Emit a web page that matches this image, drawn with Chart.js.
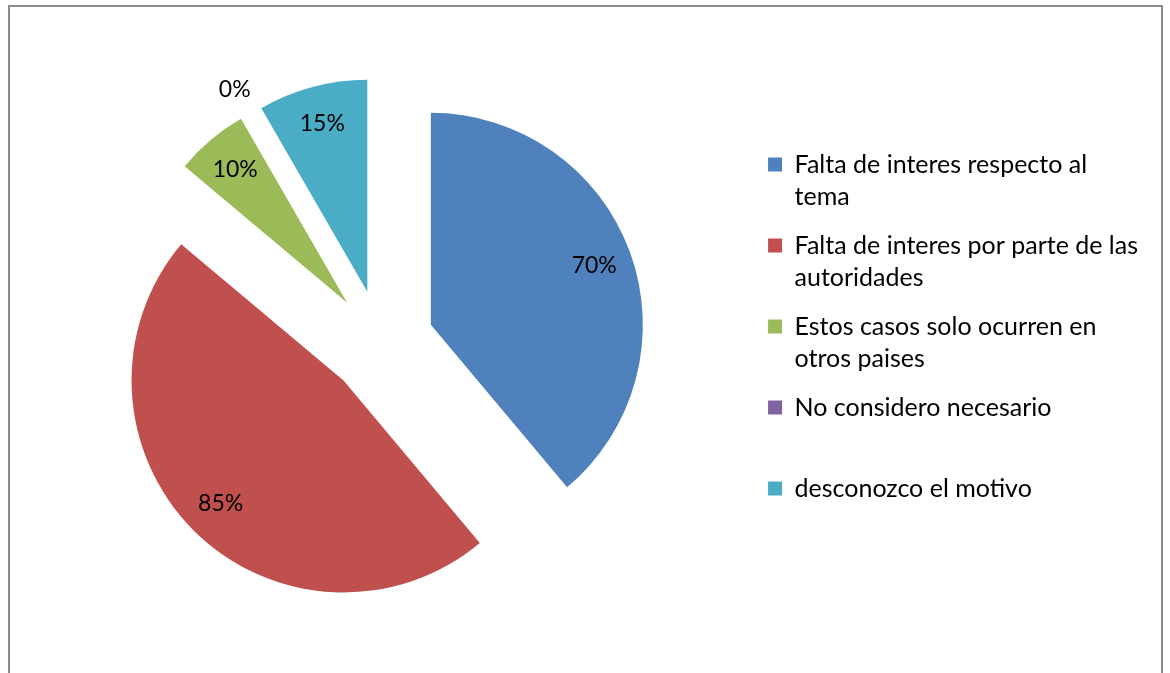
<!DOCTYPE html>
<html>
<head>
<meta charset="utf-8">
<script src="https://cdn.jsdelivr.net/npm/chart.js@4/dist/chart.umd.min.js"></script>
<style>
  html, body { margin: 0; padding: 0; background: #fff; }
  #wrap { position: relative; width: 1170px; height: 673px; overflow: hidden; }
  #frame { position: absolute; left: 8px; top: 5px; width: 1155px; height: 700px; border: 2px solid #8a8a8a; box-sizing: border-box; }
  canvas { position: absolute; left: 0; top: 0; }
</style>
</head>
<body>
<div id="wrap">
  <div id="frame"></div>
  <canvas id="myChart" width="1170" height="673"></canvas>
</div>
<script>
var categories = [
    ['Falta de interes respecto al', 'tema'],
    ['Falta de interes por parte de las', 'autoridades'],
    ['Estos casos solo ocurren en', 'otros paises'],
    ['No considero necesario'],
    ['desconozco el motivo']
];
var values = [70, 85, 10, 0, 15];
var valueLabels = ['70%', '85%', '10%', '0%', '15%'];
var colors = ['#4F81BD', '#C0504D', '#9BBB59', '#8064A2', '#4BACC6'];

var fontFamily = 'Lato, "Open Sans", sans-serif';
var pieRadius = 212;
var explode = 53; // px each slice is pulled out from the centre

var explodedPie = {
    id: 'explodedPie',
    afterDatasetsUpdate: function(chart) {
        // push every slice out along its middle angle
        chart.getDatasetMeta(0).data.forEach(function(arc) {
            var mid = (arc.startAngle + arc.endAngle) / 2;
            arc.x += Math.cos(mid) * explode;
            arc.y += Math.sin(mid) * explode;
        });
    },
    afterDatasetsDraw: function(chart) {
        var ctx = chart.ctx;
        var meta = chart.getDatasetMeta(0);
        ctx.save();
        ctx.font = '23px ' + fontFamily;
        ctx.fillStyle = '#000';
        ctx.textAlign = 'center';
        ctx.textBaseline = 'middle';
        meta.data.forEach(function(arc, i) {
            var mid = (arc.startAngle + arc.endAngle) / 2;
            var r = values[i] === 0 ? arc.outerRadius * 1.13 : arc.outerRadius * 0.82;
            ctx.fillText(valueLabels[i], arc.x + Math.cos(mid) * r, arc.y + Math.sin(mid) * r);
        });
        ctx.restore();
    }
};

var ctx = document.getElementById('myChart').getContext('2d');
var myChart = new Chart(ctx, {
    type: 'pie',
    plugins: [explodedPie],
    data: {
        labels: categories,
        datasets: [{
            data: values,
            backgroundColor: colors,
            borderWidth: 0
        }]
    },
    options: {
        responsive: false,
        animation: false,
        radius: pieRadius,
        layout: {
            padding: { left: 11, right: 22, top: 20, bottom: 7 }
        },
        plugins: {
            tooltip: { enabled: false },
            legend: {
                position: 'right',
                title: {
                    display: true,
                    text: '',
                    padding: 0,
                    font: { size: 6, lineHeight: 1 }
                },
                labels: {
                    color: '#000',
                    boxWidth: 14,
                    boxHeight: 14,
                    padding: 17,
                    font: { size: 25, family: fontFamily, lineHeight: 1.28 },
                    generateLabels: function(chart) {
                        var items = Chart.overrides.pie.plugins.legend.labels.generateLabels(chart);
                        items.forEach(function(item) {
                            var lines = item.text.slice();
                            while (lines.length < 2) lines.push('');
                            item.text = lines;
                            item.strokeStyle = item.fillStyle;
                            item.lineWidth = 0;
                        });
                        return items;
                    }
                }
            }
        }
    }
});
</script>
</body>
</html>
